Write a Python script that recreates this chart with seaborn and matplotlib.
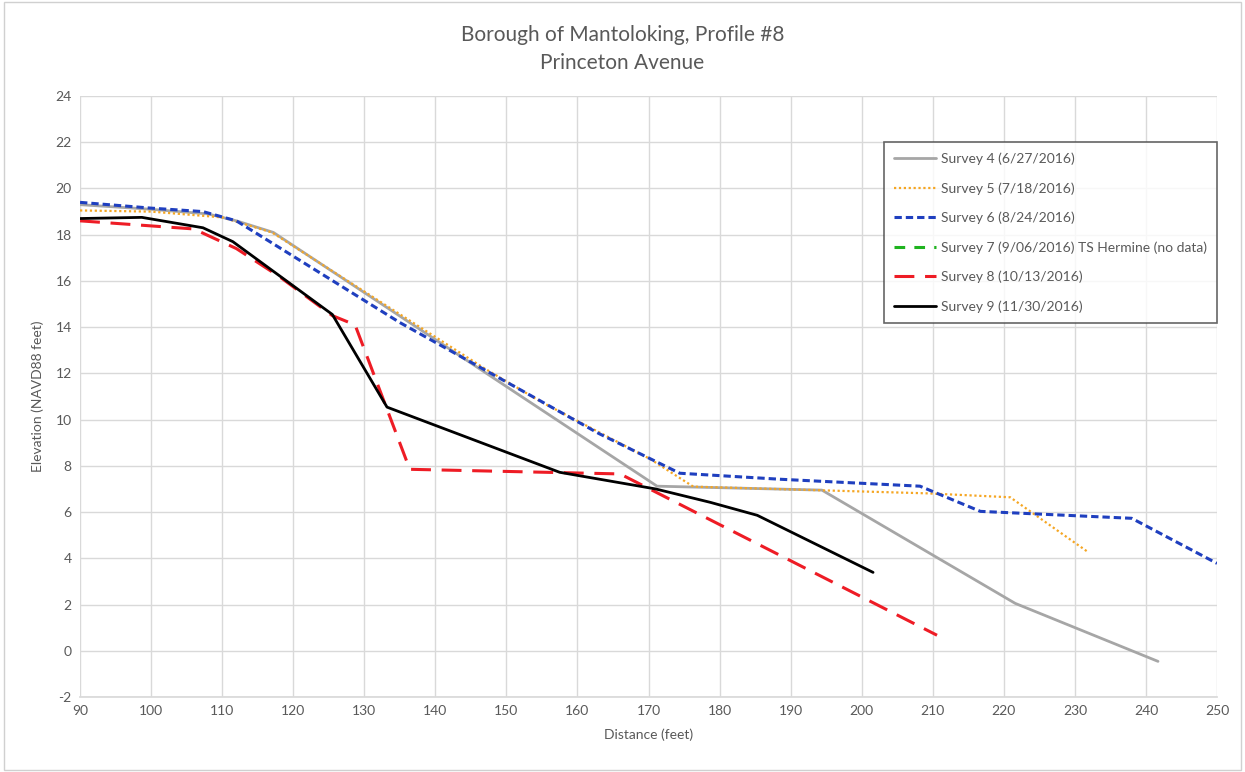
import numpy as np
import pandas as pd
import seaborn as sns
import matplotlib.pyplot as plt
from matplotlib.patches import Rectangle

sns.set_theme(style="whitegrid")
plt.rcParams['font.family'] = ['Lato', 'DejaVu Sans']
plt.rcParams['axes.unicode_minus'] = False

# Survey data (distance ft, elevation ft NAVD88)
s4_x = [90, 100, 108, 112, 117.2, 171.2, 194.4, 221.6, 241.7]
s4_y = [19.3, 19.1, 18.9, 18.6, 18.1, 7.12, 6.95, 2.05, -0.46]

s5_x = [90, 100, 110, 117, 147, 155, 170.2, 176.3, 209.2, 220.9, 231.9]
s5_y = [19.05, 19.0, 18.75, 18.1, 12.2, 10.75, 8.3, 7.1, 6.81, 6.64, 4.26]

s6_x = [90, 100, 107.3, 112, 135, 163, 174.4, 188.5, 208.2, 216.7, 238, 250]
s6_y = [19.4, 19.15, 19.0, 18.6, 14.2, 9.4, 7.68, 7.42, 7.12, 6.03, 5.73, 3.78]

s8_x = [90, 106, 112, 118, 125.5, 128.7, 136.4, 166, 210.6]
s8_y = [18.6, 18.25, 17.4, 16.2, 14.5, 14.1, 7.85, 7.65, 0.67]

s9_x = [90, 98.7, 107.3, 111.5, 125.5, 133.2, 157.5, 171, 178.7, 185.3, 201.6]
s9_y = [18.7, 18.75, 18.3, 17.7, 14.55, 10.54, 7.72, 7.0, 6.42, 5.86, 3.39]

labels = ["Survey 4 (6/27/2016)", "Survey 5 (7/18/2016)", "Survey 6 (8/24/2016)",
          "Survey 7 (9/06/2016) TS Hermine (no data)", "Survey 8 (10/13/2016)",
          "Survey 9 (11/30/2016)"]

fig = plt.figure(figsize=(12.45, 7.72), dpi=100)
ax = fig.add_axes([0.0643, 0.0972, 0.9775 - 0.0643, 0.8756 - 0.0972])

sns.lineplot(x=s4_x, y=s4_y, ax=ax, sort=False, estimator=None, color="#a6a6a6",
             lw=2, label=labels[0])
sns.lineplot(x=s5_x, y=s5_y, ax=ax, sort=False, estimator=None, color="#f5a623",
             lw=1.6, linestyle=(0, (1, 1.2)), label=labels[1])
sns.lineplot(x=s6_x, y=s6_y, ax=ax, sort=False, estimator=None, color="#1f3fbf",
             lw=2.2, linestyle=(0, (2.4, 1.3)), label=labels[2])
ax.plot([], [], color="#1fb31f", lw=2.2, linestyle=(0, (3.5, 3)), label=labels[3])
sns.lineplot(x=s8_x, y=s8_y, ax=ax, sort=False, estimator=None, color="#ee1c25",
             lw=2.2, linestyle=(0, (6.5, 3.5)), label=labels[4])
sns.lineplot(x=s9_x, y=s9_y, ax=ax, sort=False, estimator=None, color="black",
             lw=2, label=labels[5])

ax.set_xlim(90, 250)
ax.set_ylim(-2, 24)
ax.set_xticks(np.arange(90, 251, 10))
ax.set_yticks(np.arange(-2, 25, 2))
ax.grid(True, color="#d9d9d9", lw=1)
for sp in ax.spines.values():
    sp.set_visible(False)
ax.spines['bottom'].set_visible(True)
ax.spines['bottom'].set_color("#d9d9d9")
ax.tick_params(axis='both', length=0, labelsize=10, colors="#595959", pad=6)

ax.set_xlabel("Distance (feet)", fontsize=10, color="#595959", labelpad=8)
ax.set_ylabel("Elevation (NAVD88 feet)", fontsize=10, color="#595959", labelpad=8)
fig.text(0.5, 0.955, "Borough of Mantoloking, Profile #8", ha="center", va="center",
         fontsize=15, color="#595959")
fig.text(0.5, 0.918, "Princeton Avenue", ha="center", va="center",
         fontsize=15, color="#595959")

leg = ax.legend(loc="upper right", bbox_to_anchor=(1.0, 0.923), fontsize=10,
                frameon=True, fancybox=False, edgecolor="#404040",
                labelspacing=1.22, handlelength=3.0, handletextpad=0.35,
                borderpad=0.75, borderaxespad=0, labelcolor="#595959")
leg.get_frame().set_linewidth(1.2)

fig.patches.append(Rectangle((0.003, 0.003), 0.994, 0.994, transform=fig.transFigure,
                             fill=False, edgecolor="#d0d0d0", lw=1))

fig.savefig("out.png", dpi=100, facecolor="white")
